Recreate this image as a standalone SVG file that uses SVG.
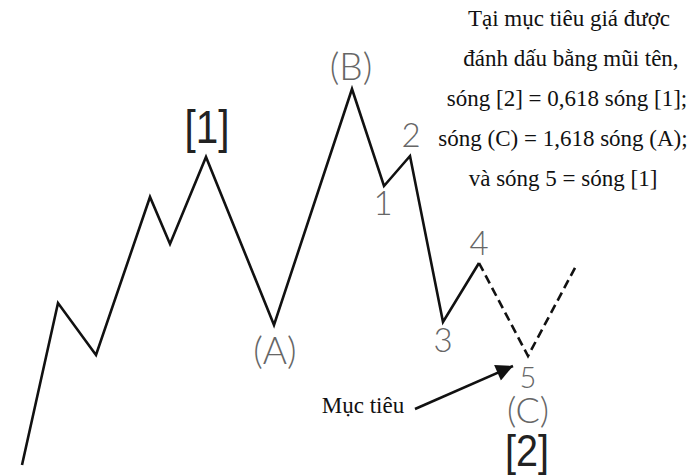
<svg xmlns="http://www.w3.org/2000/svg" width="698" height="475" viewBox="0 0 698 475">
<style>
.wave{fill:none;stroke:#111;stroke-width:2.6;stroke-linejoin:miter;stroke-linecap:butt}
.dash{fill:none;stroke:#111;stroke-width:2.6;stroke-dasharray:9 5}
.lbl{font-family:Lato,"Liberation Sans",Arial,sans-serif;font-weight:300;fill:#666;text-anchor:middle}
.big{font-family:"Liberation Sans",Arial,sans-serif;fill:#222;text-anchor:middle}
.note{font-family:"Liberation Serif","Times New Roman",serif;fill:#111;font-size:23px;text-anchor:middle}
</style>
<defs>
<marker id="ah" viewBox="0 0 10 10" refX="10" refY="5" markerWidth="9" markerHeight="6.5" markerUnits="strokeWidth" orient="auto">
<path d="M0,0 L10,5 L0,10 Z" fill="#111"/>
</marker>
</defs>
<rect width="698" height="475" fill="#fff"/>
<g id="connectors">
<polyline class="wave" points="22,465 58,303 96,355 150,197 170,244 206,157 274,325 352,89 384,186 410,156 443,322 479,263"/>
<polyline class="dash" points="479,263 528,356 576,266"/>
<line x1="415" y1="409" x2="513" y2="366" stroke="#111" stroke-width="2.6" marker-end="url(#ah)"/>
</g>
<g id="label-1-big"><text class="big" x="207" y="143" font-size="46" textLength="45" lengthAdjust="spacingAndGlyphs">[1]</text></g>
<g id="label-B"><text class="lbl" x="351" y="80" font-size="37">(B)</text></g>
<g id="label-A"><text class="lbl" x="275" y="364" font-size="37">(A)</text></g>
<g id="label-2"><text class="lbl" x="411" y="147" font-size="33">2</text></g>
<g id="label-1"><text class="lbl" x="383" y="215" font-size="33">1</text></g>
<g id="label-3"><text class="lbl" x="443" y="352" font-size="33">3</text></g>
<g id="label-4"><text class="lbl" x="479" y="255" font-size="33">4</text></g>
<g id="label-5"><text class="lbl" x="528" y="388" font-size="29">5</text></g>
<g id="label-C"><text class="lbl" x="528" y="423" font-size="36">(C)</text></g>
<g id="label-2-big"><text class="big" x="527" y="466" font-size="45" textLength="44" lengthAdjust="spacingAndGlyphs">[2]</text></g>
<g id="label-target"><text class="note" x="363" y="413">Mục tiêu</text></g>
<g id="note">
<text class="note" x="569" y="26">Tại mục tiêu giá được</text>
<text class="note" x="571" y="66">đánh dấu bằng mũi tên,</text>
<text class="note" x="567" y="106">sóng [2] = 0,618 sóng [1];</text>
<text class="note" x="563" y="146">sóng (C) = 1,618 sóng (A);</text>
<text class="note" x="563" y="186">và sóng 5 = sóng [1]</text>
</g>
</svg>
